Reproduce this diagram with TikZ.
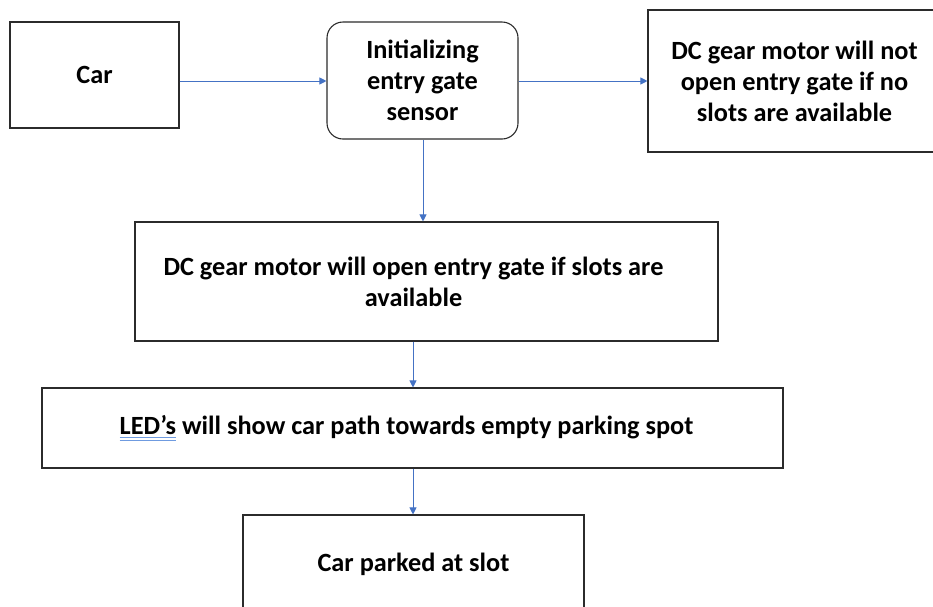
\documentclass[tikz,border=0pt]{standalone}
\usepackage{fontspec}
\setmainfont{Carlito}
\usetikzlibrary{arrows.meta,positioning}
\definecolor{arrowblue}{HTML}{4472C4}
\definecolor{ulblue}{HTML}{6F9BE0}
\definecolor{boxline}{HTML}{2B2B2B}
\newcommand\dblul[1]{\setbox0\hbox{#1}\rlap{\color{ulblue}\rule[-3.4pt]{\wd0}{0.9pt}}\rlap{\color{ulblue}\rule[-6pt]{\wd0}{0.9pt}}\box0\relax}
\tikzset{
  box/.style={draw=boxline, line width=1.1pt, inner sep=0pt, align=center,
    font=\fontsize{26.3}{31}\selectfont\bfseries},
  txt/.style={inner sep=0pt, align=center, font=\fontsize{26.3}{31}\selectfont\bfseries},
  flow/.style={draw=arrowblue, line width=0.9pt, -{Triangle[length=7pt,width=7pt]}}
}
\begin{document}
\begin{tikzpicture}[x=1pt,y=-1pt]
\useasboundingbox (0,0) rectangle (933,606);
\clip (0,0) rectangle (933,606);
\node[box, minimum width=169pt, minimum height=106pt] (car) at (94.5,75) {Car};
\node[box, rounded corners=16pt, minimum width=191pt, minimum height=117pt] (init) at (422.5,80.5) {Initializing\\entry gate\\sensor};
\node[box, minimum width=287pt, minimum height=142pt] (notopen) at (791.5,81) {};
\node[txt] (notopentext) at ([xshift=3pt]notopen.center) {DC gear motor will not\\open entry gate if no\\slots are available};
\node[box, minimum width=583pt, minimum height=119pt] (open) at (426.5,281.5) {};
\node[txt] (opentext) at ([xshift=-13pt]open.center) {DC gear motor will open entry gate if slots are\\available};
\node[box, minimum width=741pt, minimum height=80pt] (led) at (412.5,428) {};
\node[txt] (ledtext) at ([xshift=-6pt]led.center) {\dblul{LED’s} will show car path towards empty parking spot};
\node[box, minimum width=341pt, minimum height=98pt] (park) at (413.5,564) {Car parked at slot};
\draw[flow] (car.east |- 0,81) -- (init.west |- 0,81);
\draw[flow] (init.east |- 0,81) -- (notopen.west |- 0,81);
\draw[flow] (init.south -| 423,0) -- (open.north -| 423,0);
\draw[flow] (open.south -| 413,0) -- (led.north -| 413,0);
\draw[flow] (led.south -| 413,0) -- (park.north -| 413,0);
\end{tikzpicture}
\end{document}
